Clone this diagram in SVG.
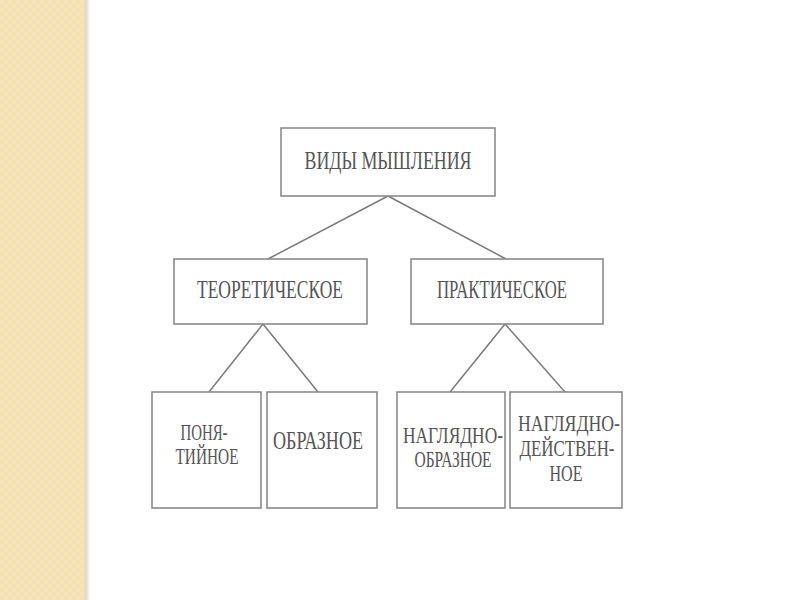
<svg xmlns="http://www.w3.org/2000/svg" width="800" height="600" viewBox="0 0 800 600">
<defs>
<pattern id="weave" x="0" y="0" width="8" height="8" patternUnits="userSpaceOnUse">
<rect width="8" height="8" fill="#F3E1B1"/>
<rect x="0" y="0" width="4" height="4" fill="#F5E5BA"/>
<rect x="4" y="4" width="4" height="4" fill="#F5E5BA"/>
</pattern>
<linearGradient id="edge" x1="0" y1="0" x2="1" y2="0">
<stop offset="0" stop-color="#DCD3BC"/>
<stop offset="0.5" stop-color="#ECE8E0"/>
<stop offset="1" stop-color="#FFFFFF"/>
</linearGradient>
<style>
.box{fill:#FFFFFF;stroke:#8A8A8A;stroke-width:1.6}
.t{font-family:"Liberation Serif","DejaVu Serif",serif;font-size:26px;fill:#555555;text-anchor:middle}
.s{font-family:"Liberation Serif","DejaVu Serif",serif;font-size:23px;fill:#555555;text-anchor:middle}
.c{stroke:#7A7A7A;stroke-width:1.5;fill:none}
</style>
</defs>
<rect width="800" height="600" fill="#FFFFFF"/>
<rect x="0" y="0" width="85" height="600" fill="url(#weave)"/>
<rect x="85" y="0" width="5" height="600" fill="url(#edge)"/>
<g id="connectors">
<line class="c" x1="388" y1="196" x2="268" y2="259"/>
<line class="c" x1="388" y1="196" x2="506" y2="259"/>
<line class="c" x1="263" y1="324" x2="209" y2="392"/>
<line class="c" x1="263" y1="324" x2="318" y2="392"/>
<line class="c" x1="505" y1="324" x2="450" y2="392"/>
<line class="c" x1="505" y1="324" x2="565" y2="392"/>
</g>
<g id="root">
<rect class="box" x="281" y="128" width="214" height="68"/>
<text class="t" x="388" y="169" textLength="167" lengthAdjust="spacingAndGlyphs">ВИДЫ МЫШЛЕНИЯ</text>
</g>
<g id="theoretical">
<rect class="box" x="174" y="259" width="193" height="65"/>
<text class="t" x="270" y="298" textLength="146" lengthAdjust="spacingAndGlyphs">ТЕОРЕТИЧЕСКОЕ</text>
</g>
<g id="practical">
<rect class="box" x="411" y="259" width="192" height="65"/>
<text class="t" x="502" y="298" textLength="130" lengthAdjust="spacingAndGlyphs">ПРАКТИЧЕСКОЕ</text>
</g>
<g id="conceptual">
<rect class="box" x="152" y="392" width="109" height="116"/>
<text class="s" x="204" y="440" textLength="47" lengthAdjust="spacingAndGlyphs">ПОНЯ-</text>
<text class="s" x="207" y="464" textLength="63" lengthAdjust="spacingAndGlyphs">ТИЙНОЕ</text>
</g>
<g id="figurative">
<rect class="box" x="267" y="392" width="110" height="116"/>
<text class="t" x="318" y="449" textLength="90" lengthAdjust="spacingAndGlyphs">ОБРАЗНОЕ</text>
</g>
<g id="visual-figurative">
<rect class="box" x="397" y="392" width="108" height="116"/>
<text class="s" x="453" y="443" textLength="100" lengthAdjust="spacingAndGlyphs">НАГЛЯДНО-</text>
<text class="s" x="453" y="467" textLength="77" lengthAdjust="spacingAndGlyphs">ОБРАЗНОЕ</text>
</g>
<g id="visual-active">
<rect class="box" x="510" y="392" width="112" height="116"/>
<text class="s" x="569" y="431" textLength="102" lengthAdjust="spacingAndGlyphs">НАГЛЯДНО-</text>
<text class="s" x="567" y="456" textLength="95" lengthAdjust="spacingAndGlyphs">ДЕЙСТВЕН-</text>
<text class="s" x="566" y="481" textLength="33" lengthAdjust="spacingAndGlyphs">НОЕ</text>
</g>
</svg>
